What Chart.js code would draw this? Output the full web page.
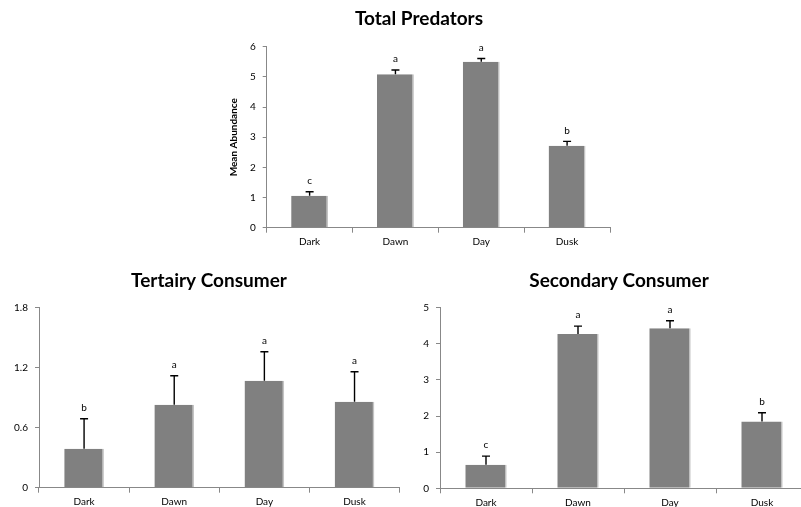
<!DOCTYPE html>
<html>
<head>
<meta charset="utf-8">
<script src="https://cdn.jsdelivr.net/npm/chart.js@4.4.1/dist/chart.umd.min.js"></script>
<style>
    body { margin: 0; background: #fff; overflow: hidden; width: 801px; height: 507px; position: relative; }
    canvas { position: absolute; }
</style>
</head>
<body>
<canvas id="predChart" width="420" height="258" style="left:200px;top:0px;"></canvas>
<canvas id="tertChart" width="402" height="249" style="left:0px;top:258px;"></canvas>
<canvas id="secChart" width="406" height="249" style="left:402px;top:258px;"></canvas>
<script>
const categorias = ['Dark', 'Dawn', 'Day', 'Dusk'];

const predMedia = [1.06, 5.09, 5.50, 2.72];
const predErro = [0.13, 0.14, 0.11, 0.14];
const predLetras = ['c', 'a', 'a', 'b'];
const predTicks = [0, 1, 2, 3, 4, 5, 6];

const tertMedia = [0.39, 0.83, 1.07, 0.86];
const tertErro = [0.30, 0.29, 0.29, 0.30];
const tertLetras = ['b', 'a', 'a', 'a'];
const tertTicks = [0, 0.6, 1.2, 1.8];

const secMedia = [0.65, 4.27, 4.43, 1.85];
const secErro = [0.24, 0.22, 0.21, 0.24];
const secLetras = ['c', 'a', 'a', 'b'];
const secTicks = [0, 1, 2, 3, 4, 5];

const eixoCor = '#888888';
const fonte = 'Lato';

// desenha barra de erro (só para cima) e a letra de significância
const errorBarPlugin = {
    id: 'errorBars',
    afterDatasetsDraw(chart, args, opts) {
        const ctx = chart.ctx;
        const y = chart.scales.y;
        const meta = chart.getDatasetMeta(0);
        ctx.save();
        meta.data.forEach((bar, i) => {
            const v = opts.media[i];
            const top = y.getPixelForValue(v + opts.erro[i]);
            const base = y.getPixelForValue(v);
            ctx.strokeStyle = '#000';
            ctx.lineWidth = 1.4;
            ctx.beginPath();
            ctx.moveTo(bar.x, base);
            ctx.lineTo(bar.x, top);
            ctx.moveTo(bar.x - 4, top);
            ctx.lineTo(bar.x + 4, top);
            ctx.stroke();
            ctx.fillStyle = '#000';
            ctx.font = '10px ' + fonte;
            ctx.textAlign = 'center';
            ctx.textBaseline = 'middle';
            ctx.fillText(opts.letras[i], bar.x, top - 11);
        });
        ctx.restore();
    }
};

// título do gráfico (o título do Excel não fica centrado na área do gráfico)
const tituloPlugin = {
    id: 'tituloExcel',
    afterDraw(chart, args, opts) {
        const ctx = chart.ctx;
        ctx.save();
        ctx.fillStyle = '#000';
        ctx.font = 'bold 19px ' + fonte;
        ctx.textAlign = 'center';
        ctx.textBaseline = 'middle';
        ctx.fillText(opts.texto, opts.x, opts.y);
        ctx.restore();
    }
};

function renderChart(id, cfg) {
    const ctx = document.getElementById(id).getContext('2d');
    const ticks = cfg.ticks;
    return new Chart(ctx, {
        type: 'bar',
        data: {
            labels: categorias,
            datasets: [{
                data: cfg.media,
                backgroundColor: '#808080',
                borderColor: '#c4c4c4',
                borderWidth: { top: 0, left: 0, bottom: 0, right: 1.5 },
                borderSkipped: false,
                barPercentage: cfg.barPct,
                categoryPercentage: 1
            }]
        },
        options: {
            responsive: false,
            animation: false,
            devicePixelRatio: 1,
            layout: { padding: cfg.padding },
            scales: {
                x: {
                    grid: { offset: true, drawOnChartArea: false, color: eixoCor, tickLength: 5 },
                    border: { color: eixoCor },
                    ticks: { color: '#000', font: { family: fonte, size: 10 }, padding: 3, maxRotation: 0 },
                    afterFit: s => { s.height = cfg.xAltura; }
                },
                y: {
                    min: ticks[0],
                    max: ticks[ticks.length - 1],
                    afterBuildTicks: s => { s.ticks = ticks.map(v => ({ value: v })); },
                    grid: { drawOnChartArea: false, color: eixoCor, tickLength: 4 },
                    border: { color: eixoCor },
                    ticks: { color: '#000', font: { family: fonte, size: 10 }, padding: 7, callback: v => String(v) },
                    title: cfg.yTitulo ? { display: true, text: cfg.yTitulo, color: '#000', font: { family: fonte, size: 10, weight: 'bold' }, padding: 0 } : { display: false },
                    afterFit: s => { s.width = cfg.yLargura; }
                }
            },
            plugins: {
                legend: { display: false },
                tooltip: { enabled: false },
                title: { display: false },
                errorBars: { media: cfg.media, erro: cfg.erro, letras: cfg.letras },
                tituloExcel: { texto: cfg.titulo, x: cfg.tituloX, y: cfg.tituloY }
            }
        },
        plugins: [errorBarPlugin, tituloPlugin]
    });
}

renderChart('predChart', {
    titulo: 'Total Predators', media: predMedia, erro: predErro, letras: predLetras, ticks: predTicks,
    yTitulo: 'Mean Abundance', barPct: 0.43,
    padding: { left: 28, right: 10, top: 46.7, bottom: 0 }, tituloX: 219, tituloY: 19,
    yLargura: 38.7, xAltura: 30.3
});

renderChart('tertChart', {
    titulo: 'Tertairy Consumer', media: tertMedia, erro: tertErro, letras: tertLetras, ticks: tertTicks,
    yTitulo: null, barPct: 0.44,
    padding: { left: 0, right: 2.4, top: 49.7, bottom: 0 }, tituloX: 209, tituloY: 22.7,
    yLargura: 39, xAltura: 19.3
});

renderChart('secChart', {
    titulo: 'Secondary Consumer', media: secMedia, erro: secErro, letras: secLetras, ticks: secTicks,
    yTitulo: null, barPct: 0.45,
    padding: { left: 0, right: 0, top: 49.7, bottom: 0 }, tituloX: 217, tituloY: 22.7,
    yLargura: 38, xAltura: 18.7
});
</script>
</body>
</html>
